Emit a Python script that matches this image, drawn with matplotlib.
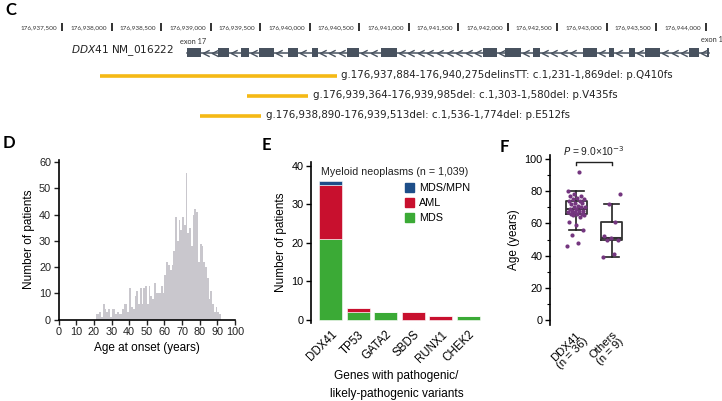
import numpy as np
import matplotlib
matplotlib.use("Agg")
import matplotlib.pyplot as plt
from matplotlib.path import Path
from matplotlib.patches import Patch
import matplotlib.transforms as mtransforms

plt.rcParams['font.family'] = ['Liberation Sans', 'DejaVu Sans']
plt.rcParams['mathtext.fontset'] = 'custom'
plt.rcParams['mathtext.rm'] = 'DejaVu Sans'
plt.rcParams['mathtext.it'] = 'DejaVu Sans:italic'

# ---------------- data ----------------
ruler_positions = [176937500, 176938000, 176938500, 176939000, 176939500,
                   176940000, 176940500, 176941000, 176941500, 176942000,
                   176942500, 176943000, 176943500, 176944000]
ruler_labels = ['176,937,500', '176,938,000', '176,938,500', '176,939,000',
                '176,939,500', '176,940,000', '176,940,500', '176,941,000',
                '176,941,500', '176,942,000', '176,942,500', '176,943,000',
                '176,943,500', '176,944,000']
exon_starts = [176938762, 176939075, 176939307, 176939488, 176939781, 176940023,
               176940377, 176940720, 176941749, 176941971, 176942254, 176942758,
               176943021, 176943223, 176943384, 176943829, 176944010]
exon_ends = [176938903, 176939186, 176939387, 176939640, 176939882, 176940084,
             176940498, 176940881, 176941890, 176942133, 176942324, 176942900,
             176943071, 176943283, 176943536, 176943930, 176944030]
deletion_starts = [176937884, 176939364, 176938890]
deletion_ends = [176940275, 176939985, 176939513]
deletion_labels = ['g.176,937,884-176,940,275delinsTT: c.1,231-1,869del: p.Q410fs',
                   'g.176,939,364-176,939,985del: c.1,303-1,580del: p.V435fs',
                   'g.176,938,890-176,939,513del: c.1,536-1,774del: p.E512fs']

hist_ages = list(range(21, 92))
hist_counts = [2, 2, 3, 1, 6, 4, 3, 4, 1, 4,
               4, 2, 3, 2, 2, 4, 6, 6, 3, 12,
               5, 4, 9, 11, 6, 12, 6, 12, 13, 6,
               13, 9, 8, 14, 10, 10, 10, 13, 10, 17,
               22, 21, 19, 21, 26, 39, 30, 38, 34, 39,
               36, 56, 33, 35, 28, 40, 42, 41, 22, 29,
               28, 22, 20, 16, 8, 11, 6, 3, 5, 3, 2]

genes = ['DDX41', 'TP53', 'GATA2', 'SBDS', 'RUNX1', 'CHEK2']
mds = [21, 2, 2, 0, 0, 1]
aml = [14, 1, 0, 2, 1, 0]
mds_mpn = [1, 0, 0, 0, 0, 0]

age_ddx41 = [46, 48, 53, 56, 59, 61, 64, 65, 65, 66, 66, 66, 67, 67, 68, 68, 68, 69,
             69, 70, 70, 70, 71, 72, 73, 73, 74, 74, 75, 75, 76, 77, 77, 78, 80, 92]
age_others = [39, 41, 50, 50, 51, 52, 61, 72, 78]
group_labels = ['DDX41\n(n = 36)', 'Others\n(n = 9)']
p_text = r'$P$ = 9.0×10$^{-3}$'

# ---------------- layout helpers ----------------
W, H = 722, 401
fig = plt.figure(figsize=(W / 100, H / 100), dpi=100)


def axes_px(l, t, r, b):
    return fig.add_axes([l / W, 1 - b / H, (r - l) / W, (b - t) / H])


LBL = ['Liberation Sans', 'DejaVu Sans']
AV = ['Lato', 'DejaVu Sans']
WIDE = ['DejaVu Sans']
gene_col = '#48525F'
gold = '#F5B915'

# ---------------- Panel C ----------------
axC = axes_px(0, 0, W, 130)
axC.set_axis_off()
scale = 0.09908  # px per bp
ref_pos, ref_px = 176937500, 62
axC.set_xlim(ref_pos - ref_px / scale, ref_pos + (W - ref_px) / scale)
axC.set_ylim(130, 0)

for p, lab in zip(ruler_positions, ruler_labels):
    axC.plot([p, p], [23, 31], color='#222222', lw=1.3, solid_capstyle='butt')
    axC.annotate(lab, (p, 27.5), xytext=(-3.5, 0), textcoords='offset points',
                 ha='right', va='center', fontsize=4.6, family=AV, color='#333333')

gene_y = 52.5
axC.plot([exon_starts[0], exon_ends[-1]], [gene_y, gene_y], color=gene_col, lw=1.1)
chev = Path([(1, 1), (-1, 0), (1, -1)], [Path.MOVETO, Path.LINETO, Path.LINETO])
for e_end, n_start in zip(exon_ends[:-1], exon_starts[1:]):
    xs = np.arange(e_end + 50, n_start - 25, 96)
    axC.plot(xs, np.full(len(xs), gene_y), linestyle='none', marker=chev,
             markersize=4.6, markerfacecolor='none', markeredgecolor=gene_col,
             markeredgewidth=1.0)
for s, e in zip(exon_starts, exon_ends):
    axC.fill_between([s, e], gene_y - 4.6, gene_y + 4.6, color=gene_col, lw=0)

axC.annotate('exon 17', (exon_starts[0], 41), xytext=(-5, 0), textcoords='offset points',
             ha='left', va='center', fontsize=5.3, family=AV, color='#333333')
axC.annotate('exon 1', (exon_ends[-1], 39), xytext=(-6, 0), textcoords='offset points',
             ha='left', va='center', fontsize=5.3, family=AV, color='#333333')
axC.annotate(r'$\it{DDX41}$ NM_016222', (exon_starts[0], gene_y - 1.5), xytext=(-9.5, 0),
             textcoords='offset points', ha='right', va='center', fontsize=7.6,
             family=WIDE, color='#222222')

for i, (s, e, lab) in enumerate(zip(deletion_starts, deletion_ends, deletion_labels)):
    y = 75.5 + 20 * i
    axC.plot([s, e], [y, y], color=gold, lw=2.6, solid_capstyle='butt')
    axC.annotate(lab, (e, y), xytext=(3.2, 0), textcoords='offset points',
                 ha='left', va='center', fontsize=7.4, family=WIDE, color='#222222')

fig.text(5 / W, 1 - 10 / H, 'C', fontsize=12, fontweight='bold', family=AV,
         va='center', ha='left')

# ---------------- Panel D ----------------
axD = axes_px(58.7, 159.5, 235, 319.7)
axD.bar(hist_ages, hist_counts, width=1, align='edge', color='#C9C7CD', linewidth=0)
axD.set_xlim(0, 100)
axD.set_ylim(0, 61)
axD.set_xticks(range(0, 101, 10))
axD.set_yticks(range(0, 61, 10))
axD.spines[['top', 'right']].set_visible(False)
axD.spines[['left', 'bottom']].set_linewidth(1.2)
axD.tick_params(direction='out', length=3.5, width=1, labelsize=7.8, pad=2,
                colors='#222222')
axD.set_ylabel('Number of patients', fontsize=8.5, family=LBL, labelpad=3)
axD.set_xlabel('Age at onset (years)', fontsize=8.5, family=LBL, labelpad=3)
fig.text(3 / W, 1 - 143 / H, 'D', fontsize=12, fontweight='bold', family=AV,
         va='center', ha='left')

# ---------------- Panel E ----------------
axE = axes_px(311, 161.85, 482, 323.2)
x = np.arange(len(genes))
green, red, blue = '#3BAA36', '#C8102E', '#1D4E89'
bw = 0.84
axE.bar(x, mds, width=bw, color=green, edgecolor='white', linewidth=0.4, label='MDS')
axE.bar(x, aml, width=bw, bottom=mds, color=red, edgecolor='white', linewidth=0.4,
        label='AML')
axE.bar(x, mds_mpn, width=bw, bottom=np.add(mds, aml), color=blue, edgecolor='white',
        linewidth=0.4, label='MDS/MPN')
axE.set_xlim(-0.716, 5.5)
axE.set_ylim(-0.9, 41)
axE.set_yticks(range(0, 41, 10))
axE.set_xticks(x)
axE.set_xticklabels(genes, rotation=45, ha='right', va='top', rotation_mode='anchor',
                    fontsize=8.3)
shiftE = mtransforms.ScaledTranslation(6 / 100, -1 / 100, fig.dpi_scale_trans)
for t in axE.get_xticklabels():
    t.set_transform(t.get_transform() + shiftE)
axE.spines[['top', 'right', 'bottom']].set_visible(False)
axE.spines['left'].set_linewidth(1.2)
axE.tick_params(axis='y', direction='out', length=3.5, width=1, labelsize=7.8, pad=2)
axE.tick_params(axis='x', length=0, pad=4)
axE.set_ylabel('Number of patients', fontsize=8.5, family=LBL, labelpad=3)
axE.set_xlabel('Genes with pathogenic/\nlikely-pathogenic variants', fontsize=8.6,
               family=LBL, labelpad=4, linespacing=1.65)
axE.text(0.06, 0.935, 'Myeloid neoplasms (n = 1,039)', transform=axE.transAxes,
         fontsize=7.7, ha='left', va='center', color='#222222')
handles = [Patch(color=blue), Patch(color=red), Patch(color=green)]
fig.legend(handles, ['MDS/MPN', 'AML', 'MDS'], loc='upper left',
           bbox_to_anchor=(405 / W, 1 - 183 / H), frameon=False, fontsize=7.8,
           handlelength=0.85, handleheight=0.9, handletextpad=0.45,
           labelspacing=0.42, borderpad=0, borderaxespad=0)
fig.text(262 / W, 1 - 145 / H, 'E', fontsize=12, fontweight='bold', family=AV,
         va='center', ha='left')

# ---------------- Panel F ----------------
axF = axes_px(550, 155, 633, 325)
data = [age_ddx41, age_others]
axF.boxplot(data, positions=[1, 2], widths=0.6, whis=1.5, showfliers=False,
            capwidths=0.42,
            boxprops=dict(color='#333333', lw=1.3),
            medianprops=dict(color='#333333', lw=1.5),
            whiskerprops=dict(color='#222222', lw=1.2),
            capprops=dict(color='#222222', lw=1.2))
purple = '#74367F'
for pos, vals in zip([1, 2], data):
    n = len(vals)
    offs = ((np.arange(n) * 0.618034) % 1 - 0.5) * 0.5
    axF.scatter(pos + offs, vals, s=9, color=purple, zorder=3, linewidths=0)
axF.set_xlim(0.257, 2.6)
axF.set_ylim(-3, 102.5)
axF.set_yticks(range(0, 101, 20))
axF.set_yticks(range(10, 100, 20), minor=True)
axF.set_xticks([1, 2])
axF.set_xticklabels(group_labels, rotation=45, ha='right', va='top',
                    rotation_mode='anchor', fontsize=8.2, multialignment='center',
                    linespacing=1.0)
shiftF = mtransforms.ScaledTranslation(3 / 100, 0, fig.dpi_scale_trans)
for t in axF.get_xticklabels():
    t.set_transform(t.get_transform() + shiftF)
axF.spines[['top', 'right', 'bottom']].set_visible(False)
axF.spines['left'].set_linewidth(1.2)
axF.tick_params(axis='y', which='major', direction='out', length=3.5, width=1,
                labelsize=7.8, pad=2)
axF.tick_params(axis='y', which='minor', direction='out', length=2, width=0.8)
axF.tick_params(axis='x', length=0, pad=3)
axF.set_ylabel('Age (years)', fontsize=8.5, family=LBL, labelpad=3)
by = 98.2
axF.plot([1, 1, 2, 2], [by - 2.2, by, by, by - 2.2], color='#222222', lw=1.0,
         clip_on=False)
axF.text(1.5, by + 2.3, p_text, ha='center', va='bottom', fontsize=7.4,
         color='#222222')
fig.text(500 / W, 1 - 147 / H, 'F', fontsize=12, fontweight='bold', family=AV,
         va='center', ha='left')

fig.savefig('out.png', dpi=100)
